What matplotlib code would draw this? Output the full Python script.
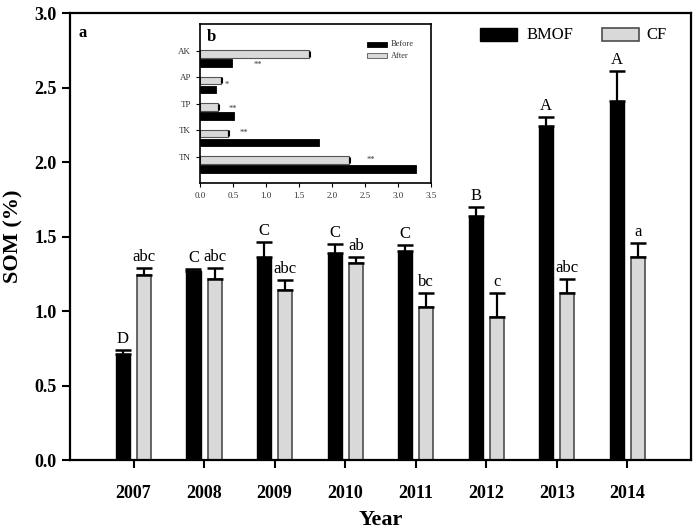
import matplotlib
matplotlib.use("Agg")
import matplotlib.pyplot as plt
import numpy as np
from matplotlib.patches import Rectangle

plt.rcParams['font.family'] = ['Liberation Serif', 'DejaVu Serif']

years = ['2007', '2008', '2009', '2010', '2011', '2012', '2013', '2014']
bmof = [0.71, 1.27, 1.36, 1.39, 1.40, 1.64, 2.24, 2.41]
bmof_err = [0.03, 0.01, 0.10, 0.06, 0.04, 0.06, 0.06, 0.20]
cf = [1.24, 1.215, 1.14, 1.32, 1.025, 0.96, 1.12, 1.365]
cf_err = [0.05, 0.075, 0.065, 0.04, 0.095, 0.16, 0.095, 0.09]
bmof_lab = ['D', 'C', 'C', 'C', 'C', 'B', 'A', 'A']
cf_lab = ['abc', 'abc', 'abc', 'ab', 'bc', 'c', 'abc', 'a']

nutrients = ['TN', 'TK', 'TP', 'AP', 'AK']
before = [3.28, 1.80, 0.52, 0.25, 0.49]
after = [2.26, 0.43, 0.28, 0.32, 1.65]
after_err = [0.02, 0.01, 0.01, 0.01, 0.02]
sig = ['**', '**', '**', '*', '**']
sig_x = [2.59, 0.67, 0.50, 0.41, 0.87]
sig_dy = [-0.12, -0.12, -0.2, -0.3, -0.55]

fig = plt.figure(figsize=(7.0, 5.29), dpi=100)
ax = fig.add_axes([0.1, 0.1304, 0.887, 0.845])

x = np.arange(len(years))
w = 0.2
off = 0.15
ax.bar(x - off, bmof, w, color='black', edgecolor='black', linewidth=1, zorder=2)
ax.bar(x + off, cf, w, color='#d9d9d9', edgecolor='#4d4d4d', linewidth=1.2, zorder=2)
ax.errorbar(x - off, bmof, yerr=[np.zeros(len(x)), bmof_err], fmt='none',
            ecolor='black', elinewidth=1.6, capsize=6, capthick=1.8, zorder=3)
ax.errorbar(x + off, cf, yerr=[np.zeros(len(x)), cf_err], fmt='none',
            ecolor='black', elinewidth=1.6, capsize=6, capthick=1.8, zorder=3)
for i in range(len(x)):
    ax.text(x[i] - off, bmof[i] + bmof_err[i] + 0.02, bmof_lab[i], ha='center', va='bottom', fontsize=12)
    ax.text(x[i] + off, cf[i] + cf_err[i] + 0.02, cf_lab[i], ha='center', va='bottom', fontsize=12)

ax.set_xlim(-0.9, 7.9)
ax.set_ylim(0, 3.0)
ax.set_xticks(x)
ax.set_xticklabels(years, fontsize=13, fontweight='bold')
ax.set_yticks(np.arange(0, 3.01, 0.5))
ax.set_yticklabels(['%.1f' % v for v in np.arange(0, 3.01, 0.5)], fontsize=13, fontweight='bold')
ax.tick_params(axis='both', direction='out', length=6, width=1.5)
ax.tick_params(axis='x', pad=12)
for s in ax.spines.values():
    s.set_linewidth(1.6)
ax.set_xlabel('Year', fontsize=16, fontweight='bold', labelpad=6)
ax.set_ylabel('SOM (%)', fontsize=16, fontweight='bold', labelpad=8)
ax.text(0.013, 0.955, 'a', transform=ax.transAxes, fontsize=12, fontweight='bold', va='center')

# main legend
ax.add_patch(Rectangle((0.660, 0.937), 0.060, 0.029, transform=ax.transAxes,
                       facecolor='black', edgecolor='black', lw=1, clip_on=False, zorder=5))
ax.text(0.736, 0.951, 'BMOF', transform=ax.transAxes, fontsize=12, va='center')
ax.add_patch(Rectangle((0.857, 0.937), 0.059, 0.029, transform=ax.transAxes,
                       facecolor='#d9d9d9', edgecolor='#4d4d4d', lw=1.2, clip_on=False, zorder=5))
ax.text(0.929, 0.951, 'CF', transform=ax.transAxes, fontsize=12, va='center')

# inset
ins = fig.add_axes([0.2857, 0.654, 0.33, 0.3006])
ins.set_facecolor('white')
y = np.arange(len(nutrients))
h = 0.27
ins.barh(y - 0.47, before, h, color='black', edgecolor='black', lw=0.6)
ins.barh(y - 0.13, after, h, color='#d9d9d9', edgecolor='#555555', lw=0.8,
         xerr=[np.zeros(len(y)), after_err], error_kw=dict(ecolor='black', elinewidth=0.8, capsize=2.5, capthick=0.8))
for i in range(len(y)):
    ins.text(sig_x[i], y[i] + sig_dy[i], sig[i], fontsize=6, ha='center', va='center', color='#333333')
ins.set_xlim(0, 3.5)
ins.set_ylim(-1, 5)
ins.set_yticks(y)
ins.set_yticklabels(nutrients, fontsize=6.5, color='#333333')
ins.set_xticks(np.arange(0, 3.51, 0.5))
ins.set_xticklabels(['%.1f' % v for v in np.arange(0, 3.51, 0.5)], fontsize=6.5, color='#333333')
ins.tick_params(axis='both', direction='out', length=3, width=0.8)
for s in ins.spines.values():
    s.set_linewidth(1.2)
ins.text(0.03, 0.92, 'b', transform=ins.transAxes, fontsize=12, fontweight='bold', va='center')
ins.add_patch(Rectangle((0.725, 0.855), 0.085, 0.035, transform=ins.transAxes,
                        facecolor='black', edgecolor='black', lw=0.6))
ins.text(0.825, 0.872, 'Before', transform=ins.transAxes, fontsize=6, va='center', color='#333333')
ins.add_patch(Rectangle((0.725, 0.785), 0.085, 0.035, transform=ins.transAxes,
                        facecolor='#d9d9d9', edgecolor='#555555', lw=0.6))
ins.text(0.825, 0.802, 'After', transform=ins.transAxes, fontsize=6, va='center', color='#333333')

fig.savefig('out.png', dpi=100)
